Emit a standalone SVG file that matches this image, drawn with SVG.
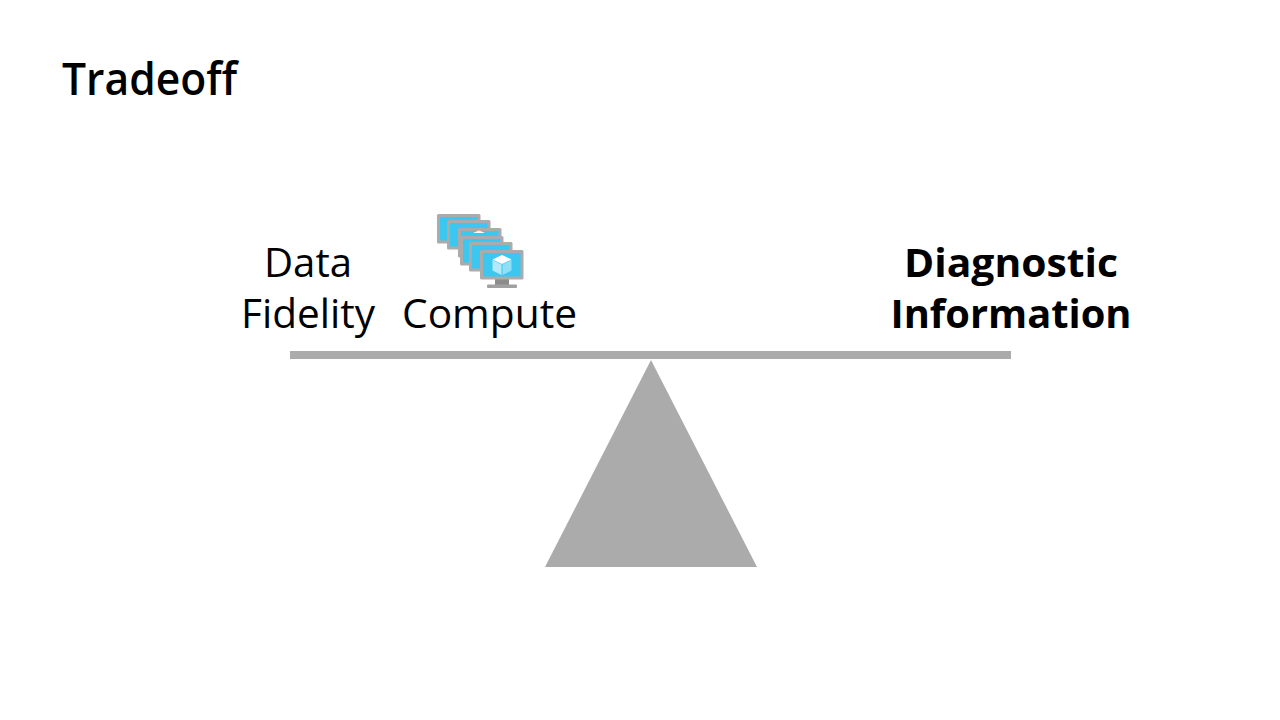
<svg xmlns="http://www.w3.org/2000/svg" xmlns:xlink="http://www.w3.org/1999/xlink" width="1280" height="720" viewBox="0 0 1280 720">
<style>
text{font-family:"Open Sans","Noto Sans","Liberation Sans",sans-serif;fill:#000;text-anchor:middle}
.l{font-size:40px}
.b{font-size:40px;font-weight:700}
.g{fill:#ababab}
</style>
<defs>
<g id="vm">
<rect x="0" y="0" width="43.500" height="29.500" rx="1.500" fill="#ababab"/>
<rect x="3" y="3" width="37.500" height="23.500" fill="#3cc7f0"/>
</g>
</defs>
<rect width="1280" height="720" fill="#fff"/>
<text id="title" x="149.500" y="95" style="font-size:46px;font-weight:600" textLength="175" lengthAdjust="spacingAndGlyphs">Tradeoff</text>
<g id="fulcrum"><path class="g" d="M651 360L757 567H545z"/></g>
<g id="beam"><rect class="g" x="290" y="351" width="721" height="8"/></g>
<g id="data-fidelity">
<text class="l" x="308" y="277" textLength="88" lengthAdjust="spacingAndGlyphs">Data</text>
<text class="l" x="308" y="328" textLength="134" lengthAdjust="spacingAndGlyphs">Fidelity</text>
</g>
<g id="compute">
<use xlink:href="#vm" href="#vm" x="437" y="214"/>
<use xlink:href="#vm" href="#vm" x="447" y="220"/>
<use xlink:href="#vm" href="#vm" x="458" y="228"/>
<path d="M473 233l6-2.500 6 2.500z" fill="#fff"/>
<use xlink:href="#vm" href="#vm" x="460" y="236"/>
<use xlink:href="#vm" href="#vm" x="469" y="242"/>
<path d="M495 279h14v6h-14z" fill="#8c8c8c"/>
<rect x="487" y="284.500" width="30" height="3.500" rx="1" fill="#a0a0a0"/>
<use xlink:href="#vm" href="#vm" x="480" y="250"/>
<path d="M502 255l9.500 4.500-9.500 4.500-9.500-4.500z" fill="#fff"/>
<path d="M492.500 260l9 4.500v10.500l-9-4.500z" fill="#b3e9f9"/>
<path d="M511.500 260l-9 4.500v10.500l9-4.500z" fill="#8fdff6"/>
<text class="l" x="489.500" y="328" textLength="175" lengthAdjust="spacingAndGlyphs">Compute</text>
</g>
<g id="diagnostic-information">
<text class="b" x="1011" y="277" textLength="214" lengthAdjust="spacingAndGlyphs">Diagnostic</text>
<text class="b" x="1011" y="328" textLength="241" lengthAdjust="spacingAndGlyphs">Information</text>
</g>
</svg>
